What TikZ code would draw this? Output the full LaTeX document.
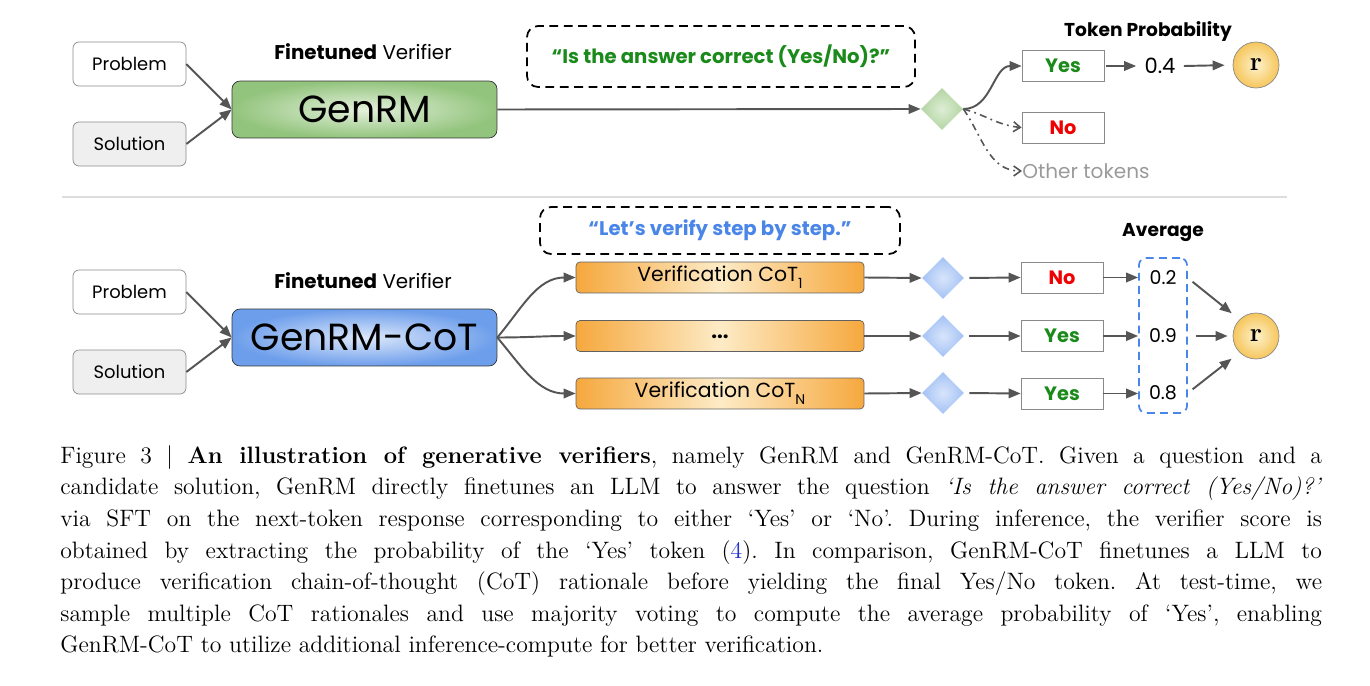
\documentclass[tikz,border=0pt]{standalone}
\usepackage{fontspec}
\usepackage{xcolor}
\newfontfamily\diagfont{Poppins}
\usetikzlibrary{shapes.geometric,arrows.meta}

\definecolor{arrgray}{HTML}{555555}
\definecolor{boxgray}{HTML}{8A8A8A}
\definecolor{solgray}{HTML}{EFEFEF}
\definecolor{gmgreen}{HTML}{93C47D}
\definecolor{gmlight}{HTML}{E4F1DC}
\definecolor{gmblue}{HTML}{6D9EEB}
\definecolor{gmbluelight}{HTML}{DDE8FB}
\definecolor{cotorange}{HTML}{F6A83E}
\definecolor{cotlight}{HTML}{FDEBC6}
\definecolor{ansgreen}{HTML}{1A8A1A}
\definecolor{nored}{HTML}{F00000}
\definecolor{stepblue}{HTML}{4A86E8}
\definecolor{rgold}{HTML}{F6C65C}
\definecolor{rlight}{HTML}{FDF2CC}
\definecolor{diagreen}{HTML}{B3D5A2}
\definecolor{diagreenlight}{HTML}{DDEDD5}
\definecolor{diablue}{HTML}{A4C2F4}
\definecolor{diabluelight}{HTML}{D8E5FB}
\definecolor{othergray}{HTML}{9A9A9A}
\definecolor{seplight}{HTML}{DDDDDD}
\definecolor{linkblue}{HTML}{1F2FD0}

\tikzset{
  inbox/.style={draw=boxgray, rounded corners=0.12cm, minimum width=2.26cm, minimum height=0.88cm,
    inner sep=0, font=\diagfont\fontsize{10.2}{12}\selectfont},
  modelbox/.style={draw=black!80, rounded corners=0.16cm, minimum width=5.3cm, minimum height=1.14cm,
    inner sep=0, font=\diagfont\fontsize{21.5}{24}\selectfont},
  headtext/.style={inner sep=0, font=\diagfont\fontsize{11.3}{13}\selectfont},
  promptbox/.style={draw=black, dash pattern=on 5pt off 3.2pt, line width=1pt, rounded corners=0.22cm,
    inner sep=0, font=\diagfont\bfseries\fontsize{11.2}{13}\selectfont},
  tokdia/.style={diamond, draw=none, minimum width=0.84cm, minimum height=0.84cm, inner sep=0},
  tokbox/.style={draw=boxgray, minimum width=1.64cm, minimum height=0.62cm, inner sep=0,
    font=\diagfont\bfseries\fontsize{11}{13}\selectfont},
  cotbox/.style={draw=boxgray!70!black, rounded corners=0.08cm, minimum width=5.76cm, minimum height=0.62cm,
    inner sep=0, left color=cotorange, right color=cotorange, middle color=cotlight,
    font=\diagfont\fontsize{11.6}{13}\selectfont},
  valtext/.style={inner sep=0, font=\diagfont\fontsize{10.8}{12}\selectfont},
  rcirc/.style={circle, draw=boxgray, minimum size=0.92cm, inner sep=0, inner color=rlight, outer color=rgold,
    font=\fontsize{15}{16}\selectfont\bfseries},
  avgbox/.style={draw=stepblue, dash pattern=on 4.5pt off 3pt, line width=1pt, rounded corners=0.14cm,
    minimum width=0.96cm, minimum height=3.1cm, inner sep=0},
  arr/.style={draw=arrgray, line width=1.1pt, -{Triangle[length=0.24cm,width=0.19cm]}},
  dotarr/.style={draw=arrgray, line width=0.9pt, dash pattern=on 4pt off 2.5pt on 1pt off 2.5pt,
    -{Straight Barb[length=0.14cm,width=0.2cm]}},
}

\begin{document}
\begin{tikzpicture}[x=0.02cm, y=-0.02cm]
\useasboundingbox (0,0) rectangle (1370,686);

% GenRM
\node[inbox] (prob1) at (129.5,64) {Problem};
\node[inbox, fill=solgray] (sol1) at (129.5,144) {Solution};
\node[modelbox, inner color=gmlight, outer color=gmgreen] (genrm) at (364.5,109.5) {GenRM};
\node[headtext] (ftv1) at (363,52) {\textbf{Finetuned} Verifier};
\node[promptbox, text=ansgreen, minimum width=7.76cm, minimum height=1.22cm] (ask) at (721,56.5)
  {“Is the answer correct (Yes/No)?”};
\node[tokdia, inner color=diagreenlight, outer color=diagreen] (dia1) at (942,109) {};
\node[tokbox, text=ansgreen] (yes1) at (1063,66) {Yes};
\node[tokbox, text=nored] (no1) at (1063,127.5) {No};
\node[anchor=west, inner sep=0, text=othergray, font=\diagfont\fontsize{11.4}{13}\selectfont] (other) at (1022,171) {Other tokens};
\node[valtext, inner sep=0.16cm, font=\diagfont\fontsize{12}{14}\selectfont] (p04) at (1160,66) {0.4};
\node[rcirc] (r1) at (1256,65) {r};
\node[headtext, font=\diagfont\bfseries\fontsize{10.6}{12}\selectfont] (tokprob) at (1148,32) {Token Probability};

\draw[arr] (prob1.east) -- (genrm.west);
\draw[arr] (sol1.east) -- (genrm.west);
\draw[arr] (genrm.east) -- (dia1.west);
\draw[arr] (dia1.east) to[out=0,in=180] (yes1.west);
\draw[dotarr] (dia1.east) to[out=-15,in=175] (no1.west);
\draw[dotarr] (dia1.east) to[out=-55,in=180] (other.west);
\draw[arr, shorten <=0.04cm] (yes1.east) -- (p04.west);
\draw[arr, shorten >=0.16cm] (p04.east) -- (r1.west);

\draw[seplight, line width=0.8pt] (62,197) -- (1287,197);

% GenRM-CoT
\node[inbox] (prob2) at (129.5,292) {Problem};
\node[inbox, fill=solgray] (sol2) at (129.5,372) {Solution};
\node[modelbox, inner color=gmbluelight, outer color=gmblue] (genrmcot) at (364.5,337.5) {GenRM-CoT};
\node[headtext] (ftv2) at (363,281) {\textbf{Finetuned} Verifier};
\node[promptbox, text=stepblue, minimum width=7.2cm, minimum height=0.94cm] (step) at (720,230.5)
  {“Let’s verify step by step.”};

\node[cotbox] (cot1) at (720,277.5) {Verification CoT\raisebox{-0.6ex}{\fontsize{8}{9}\selectfont 1}};
\node[cotbox] (cot2) at (720,336) {\raisebox{-0.5ex}{\bfseries ...}};
\node[cotbox] (cot3) at (720,393.5) {Verification CoT\raisebox{-0.6ex}{\fontsize{8}{9}\selectfont N}};

\foreach \i/\y in {1/278,2/336,3/393}
  \node[tokdia, inner color=diabluelight, outer color=diablue] (dia2\i) at (943,\y) {};

\node[tokbox, text=nored] (tok1) at (1062,277.5) {No};
\node[tokbox, text=ansgreen] (tok2) at (1062,336) {Yes};
\node[tokbox, text=ansgreen] (tok3) at (1062,393.5) {Yes};

\node[avgbox] (avg) at (1163,335.5) {};
\node[valtext] (v1) at (1163,278) {0.2};
\node[valtext] (v2) at (1163,336) {0.9};
\node[valtext] (v3) at (1163,393) {0.8};
\node[headtext, font=\diagfont\bfseries\fontsize{10.6}{12}\selectfont] (avglab) at (1163,233) {Average};
\node[rcirc] (r2) at (1256,336) {r};

\draw[arr] (prob2.east) -- (genrmcot.west);
\draw[arr] (sol2.east) -- (genrmcot.west);
\draw[arr] (genrmcot.east) to[out=50,in=180] (cot1.west);
\draw[arr] (genrmcot.east) to[out=0,in=180] (cot2.west);
\draw[arr] (genrmcot.east) to[out=-50,in=180] (cot3.west);
\foreach \i in {1,2,3} {
  \draw[arr] (cot\i.east) -- (dia2\i.west);
  \draw[arr, shorten <=0.1cm] (dia2\i.east) -- (tok\i.west);
  \draw[arr] (tok\i.east) -- (tok\i.east -| avg.west);
}
\draw[arr, shorten <=0.12cm, shorten >=0.2cm] (avg.east |- v1) -- (r2.135);
\draw[arr, shorten <=0.16cm, shorten >=0.1cm] (avg.east |- v2) -- (r2.west);
\draw[arr, shorten <=0.12cm, shorten >=0.2cm] (avg.east |- v3) -- (r2.225);

% caption
\node[anchor=north west, inner sep=0, text width=25.24cm, align=justify,
  font=\fontsize{13.5}{18}\selectfont\frenchspacing] (caption) at (60,445)
{Figure 3 | \textbf{An illustration of generative verifiers}, namely GenRM and GenRM-CoT. Given a question and a\linebreak
candidate solution, GenRM directly finetunes an LLM to answer the question \textit{‘Is the answer correct (Yes/No)?’}\linebreak
via SFT on the next-token response corresponding to either ‘Yes’ or ‘No’. During inference, the verifier score is\linebreak
obtained by extracting the probability of the ‘Yes’ token ({\color{linkblue}4}). In comparison, GenRM-CoT finetunes a LLM to\linebreak
produce verification chain-of-thought (CoT) rationale before yielding the final Yes/No token. At test-time, we\linebreak
sample multiple CoT rationales and use majority voting to compute the average probability of ‘Yes’, enabling\linebreak
GenRM-CoT to utilize additional inference-compute for better verification.};
\end{tikzpicture}
\end{document}
